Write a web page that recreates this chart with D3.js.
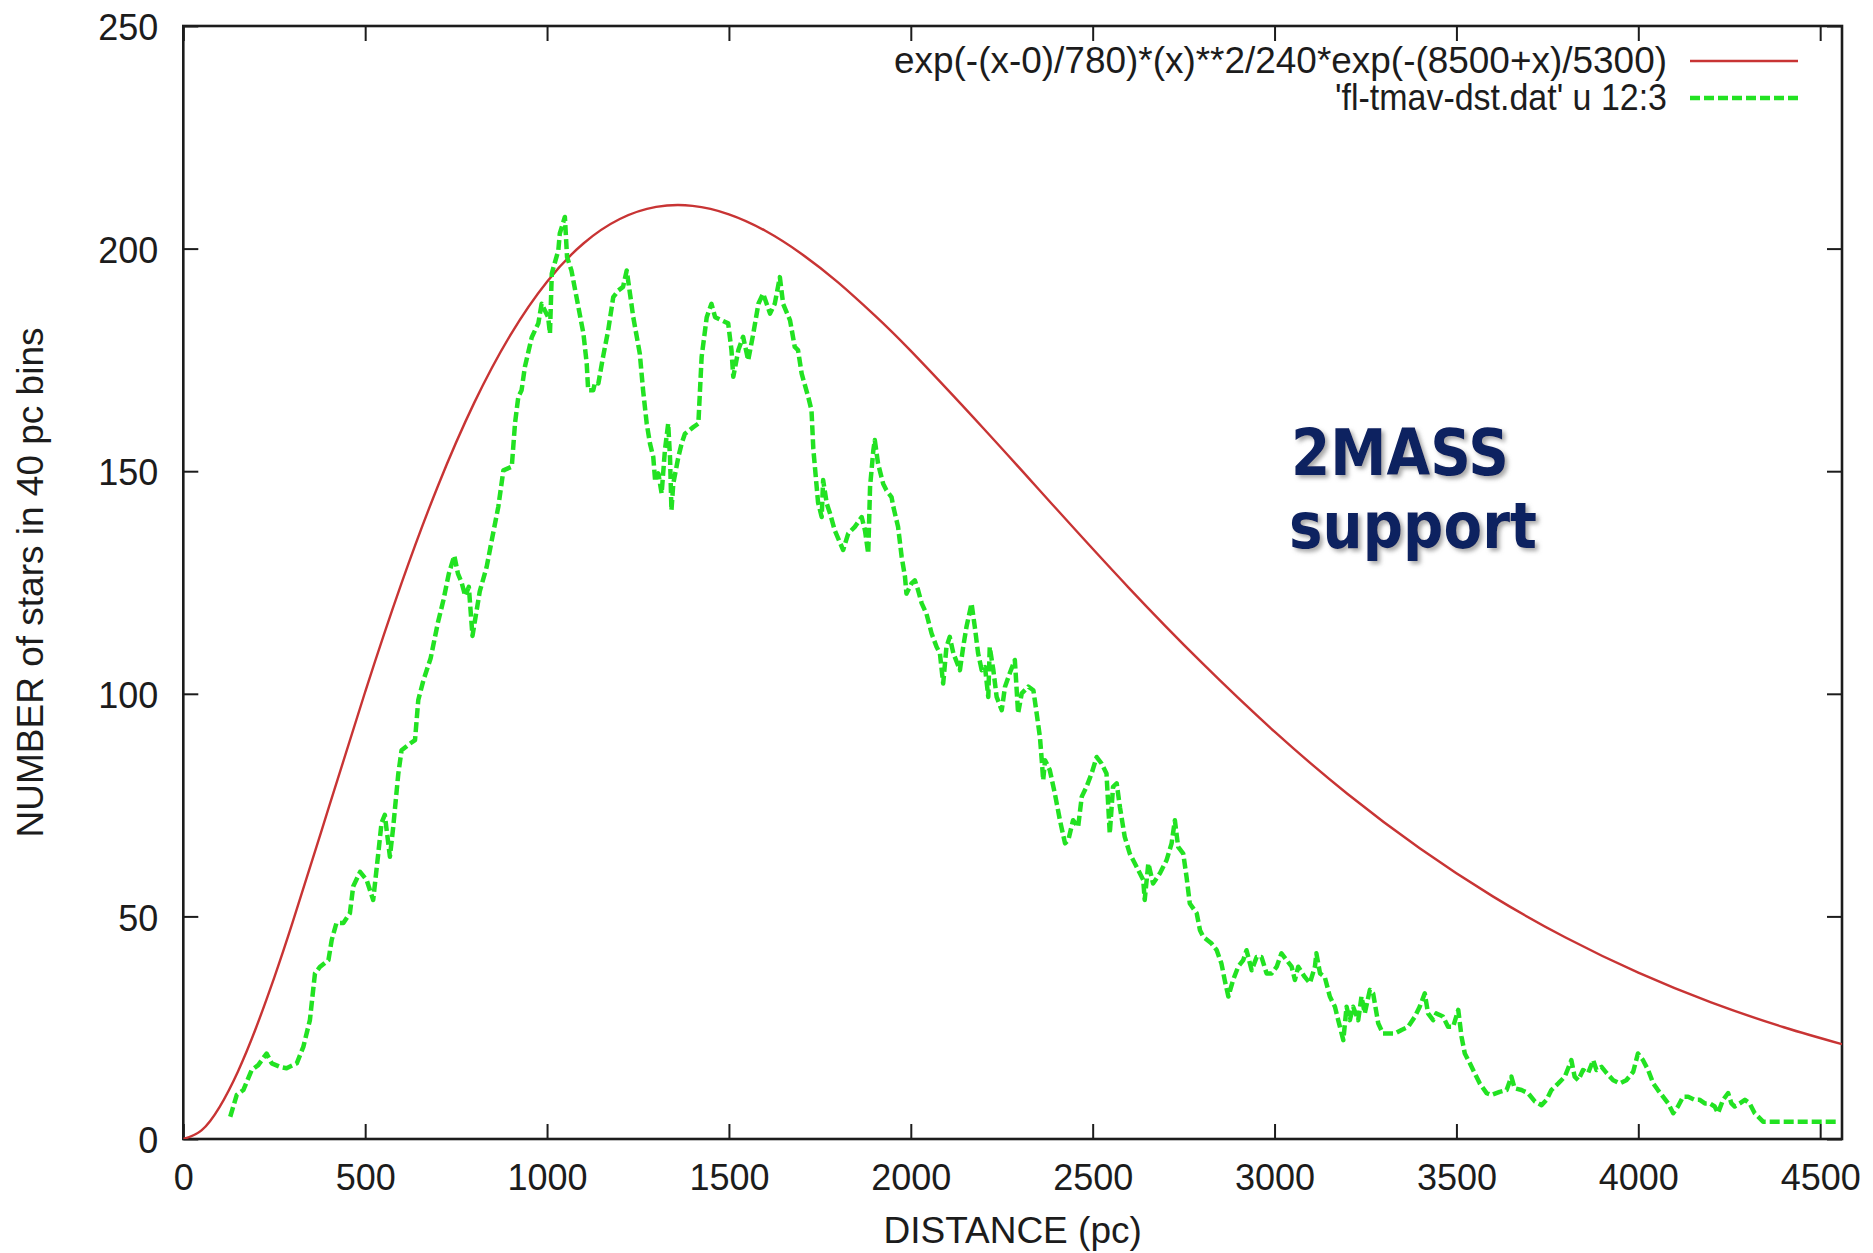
<!DOCTYPE html>
<html>
<head>
<meta charset="utf-8">
<script src="https://cdn.jsdelivr.net/npm/d3@7"></script>
<style>
  html, body { margin: 0; padding: 0; background: #ffffff; }
  svg { display: block; }
</style>
</head>
<body>
<svg id="chart" width="1873" height="1253"></svg>
<script>
// Star counts per 40 pc bin (running), against distance in pc
const distance = [
  129,147,165,188,206,229,243,266,284,312,330,348,362,376,399,408,421,440,458,467,
  486,504,522,532,545,554,568,577,591,600,623,637,646,660,680,700,715,730,745,755,
  765,775,785,795,805,815,834,848,866,880,903,912,921,930,939,958,976,985,1003,1008,
  1013,1031,1035,1049,1055,1067,1081,1100,1109,1113,1127,1132,1141,1154,1168,1182,1196,1209,1219,1228,
  1237,1255,1264,1274,1283,1292,1297,1306,1315,1324,1333,1338,1342,1347,1361,1370,1379,1402,1416,1425,
  1439,1452,1462,1480,1498,1507,1512,1526,1539,1553,1567,1581,1594,1613,1626,1640,1649,1668,1681,1690,
  1700,1718,1727,1732,1745,1755,1759,1769,1778,1791,1814,1828,1846,1865,1874,1883,1888,1897,1901,1910,
  1924,1933,1947,1952,1965,1975,1984,1988,2002,2011,2020,2030,2043,2057,2071,2080,2089,2098,2107,2117,
  2135,2144,2153,2167,2176,2185,2195,2204,2213,2217,2227,2236,2250,2259,2272,2286,2295,2305,2323,2337,
  2346,2355,2360,2364,2369,2382,2396,2410,2424,2433,2446,2460,2470,2483,2497,2511,2524,2538,2547,2556,
  2566,2575,2588,2602,2621,2639,2643,2653,2666,2685,2703,2717,2726,2735,2749,2758,2767,2786,2795,2804,
  2827,2841,2854,2863,2873,2886,2900,2914,2923,2937,2951,2964,2978,2992,3006,3019,3033,3047,3056,3065,
  3083,3097,3111,3115,3125,3138,3152,3166,3175,3189,3198,3207,3216,3230,3239,3248,3262,3271,3285,3298,
  3317,3331,3349,3367,3386,3399,3413,3422,3436,3445,3463,3477,3491,3505,3514,3523,3537,3550,3564,3583,
  3596,3619,3638,3651,3660,3679,3697,3716,3734,3748,3761,3780,3798,3816,3825,3835,3848,3862,3876,3885,
  3899,3913,3931,3949,3967,3986,3999,4013,4027,4041,4054,4068,4082,4096,4109,4123,4137,4155,4169,4183,
  4197,4210,4219,4233,4247,4256,4265,4279,4293,4306,4320,4343,4550
];
const starCount = [
  5.0,9.9,11.0,15.5,16.6,19.2,17.0,16.2,15.9,17.0,20.7,26.7,37.2,38.7,40.2,44.7,48.5,48.5,50.7,56.7,
  60.0,58.2,53.7,61.1,71.0,72.8,63.4,70.0,82.0,87.3,88.8,89.6,98.6,103,108,116,121,127,131,127,
  125,122,124,113,118,123,128.5,134.5,142,150.2,151,160.8,166.7,168.2,173.4,180.1,183.2,187.6,184.6,180.9,
  194.4,199.6,203.4,207.1,198.1,195.1,189.1,180.9,174.2,168.2,168.2,170,169.7,175.7,181.6,189.1,190.6,191.4,195.1,189.9,
  184.6,176.4,168.2,160.7,156.2,153.2,148,149.5,145,154.7,160.7,153.2,141.2,147.2,153.2,156.2,158.4,159.9,160.7,175.7,
  184.6,187.6,184.6,183.9,183.2,177.2,171.2,177.2,180.2,174.9,180.9,187.6,189.9,185.4,187.6,193.6,187.6,183.9,177.9,177.2,
  171.9,166.7,163.7,155,143,139.7,148,142.7,140.5,136.7,132.3,136,137.5,139.7,136.7,131.5,146.5,154.7,157,151.7,
  147.2,145.7,144.2,142,137.5,130.7,126.3,122.5,124.8,125.5,123.3,120.3,118,113.6,110.5,109.1,102.3,110.5,112.8,109.1,
  105.3,110.5,115,120.3,115,109.1,105.3,106,99.3,110.5,105.3,99.3,96.3,101.6,104.6,107.6,95.6,100.1,101.6,100.8,
  95.6,90.3,85.1,80.6,85.1,82.9,77.6,71.6,66.4,67.1,71.6,70.1,76.9,79.1,82.1,85.8,84.4,82.1,68.6,79.1,
  79.9,74.5,67.9,64.1,61.1,58.2,53.7,61.9,57.4,59.7,62.6,66.4,71.6,65.6,64.1,58.9,52.9,50.7,46.9,45.4,
  43.9,42.4,39.4,35.7,32.0,35.7,38.7,40.2,42.4,37.9,40.9,40.9,37.2,37.2,38.7,41.7,40.2,38.7,35.7,38.7,
  36.4,35.0,38.7,41.7,37.2,36.4,32.0,29.7,26.7,22.2,29.7,26.7,29.7,26.7,32.0,28.2,33.5,32.7,26.0,23.7,
  23.7,23.7,24.5,25.2,27.5,29.7,32.7,28.2,26.7,28.2,27.5,25.2,25.2,29.0,23.0,19.2,17.0,14.8,12.5,10.3,
  9.9,10.6,11.0,14.0,11.4,11.0,10.3,8.4,7.6,8.8,11.0,12.5,14.0,17.7,14.0,13.2,15.5,14.8,17.7,15.5,
  16.2,14.8,13.2,12.5,13.2,15.1,19.2,17.7,15.5,12.5,11.0,9.5,8.0,5.8,7.3,9.5,9.5,8.8,8.8,8.0,
  8.0,7.3,5.8,8.8,10.3,8.0,7.3,8.0,8.8,8.0,5.8,3.9,3.9
];

// Model curve values sampled along distance
const modelDistance = [0,50,100,150,200,250,300,400,500,600,700,800,900,1000,1100,1200,1300,1400,1500,1600,
  1700,1800,1900,2000,2200,2400,2600,2800,3000,3200,3400,3600,3800,4000,4200,4400,4560];
const modelCount = [0,1.95,7.24,15.13,24.98,36.27,48.52,74.47,100.44,124.85,146.69,165.40,180.70,192.58,201.15,206.64,209.36,209.60,207.71,204.01,
  198.81,192.40,185.06,177.02,159.59,141.55,123.75,106.98,91.50,77.56,65.25,54.50,45.25,37.36,30.69,25.10,21.31];

const xTicks = [0,500,1000,1500,2000,2500,3000,3500,4000,4500];
const yTicks = [0,50,100,150,200,250];
const legendLabels = [
  "exp(-(x-0)/780)*(x)**2/240*exp(-(8500+x)/5300)",
  "'fl-tmav-dst.dat' u 12:3"
];
const xTitle = "DISTANCE (pc)";
const yTitle = "NUMBER of stars in 40 pc bins";
const noteLines = ["2MASS", "support"];

const svg = d3.select("#chart");
const L = 183.3, R = 1842, T = 26, B = 1139;
const font = "'Liberation Sans', Arial, Helvetica, sans-serif";
const ink = "#1c1c1c";
const modelColor = "#c83434";
const dataColor = "#22e222";

const x = d3.scaleLinear().domain([0, 4560]).range([L, R]);
const y = d3.scaleLinear().domain([0, 250]).range([B, T]);

// shadow for the annotation text
const defs = svg.append("defs");
const f = defs.append("filter").attr("id", "shadow").attr("x", "-10%").attr("y", "-10%")
  .attr("width", "130%").attr("height", "140%");
f.append("feDropShadow").attr("dx", 3).attr("dy", 3).attr("stdDeviation", 2)
  .attr("flood-color", "#7a7a7a").attr("flood-opacity", 0.65);
defs.append("clipPath").attr("id", "plotclip").append("rect")
  .attr("x", L).attr("y", T).attr("width", R - L).attr("height", B - T);

// axes with inward ticks on all four sides
function styleAxis(g) {
  g.select(".domain").remove();
  g.selectAll(".tick line").attr("stroke", ink).attr("stroke-width", 2);
  g.selectAll(".tick text").attr("fill", ink).style("font-family", font).style("font-size", "36px");
}
svg.append("g").attr("transform", `translate(0,${B})`)
  .call(d3.axisBottom(x).tickValues(xTicks).tickSize(-15).tickFormat(d3.format("d")))
  .call(styleAxis)
  .call(g => g.selectAll(".tick text").attr("y", 51).attr("dy", 0));
svg.append("g").attr("transform", `translate(0,${T})`)
  .call(d3.axisTop(x).tickValues(xTicks).tickSize(-15).tickFormat(""))
  .call(styleAxis);
svg.append("g").attr("transform", `translate(${L},0)`)
  .call(d3.axisLeft(y).tickValues(yTicks).tickSize(-15).tickFormat(d3.format("d")))
  .call(styleAxis)
  .call(g => g.selectAll(".tick text").attr("x", -25).attr("dy", "0.38em"));
svg.append("g").attr("transform", `translate(${R},0)`)
  .call(d3.axisRight(y).tickValues(yTicks).tickSize(-15).tickFormat(""))
  .call(styleAxis);

// frame
svg.append("rect").attr("x", L).attr("y", T).attr("width", R - L).attr("height", B - T)
  .attr("fill", "none").attr("stroke", ink).attr("stroke-width", 2.6);

// axis titles
svg.append("text").attr("x", (L + R) / 2).attr("y", 1243).attr("text-anchor", "middle")
  .attr("fill", ink).style("font-family", font).style("font-size", "37px").text(xTitle);
svg.append("text").attr("transform", `translate(43,${(T + B) / 2}) rotate(-90)`)
  .attr("text-anchor", "middle").attr("fill", ink)
  .style("font-family", font).style("font-size", "37px").text(yTitle);

const plot = svg.append("g").attr("clip-path", "url(#plotclip)");

// model curve
const modelPts = modelDistance.map((d, i) => [d, modelCount[i]]);
plot.append("path").datum(modelPts)
  .attr("d", d3.line().x(d => x(d[0])).y(d => y(d[1])).curve(d3.curveNatural))
  .attr("fill", "none").attr("stroke", modelColor).attr("stroke-width", 2.4);

// observed counts
const dataPts = distance.map((d, i) => [d, starCount[i]]);
plot.append("path").datum(dataPts)
  .attr("d", d3.line().x(d => x(d[0])).y(d => y(d[1])))
  .attr("fill", "none").attr("stroke", dataColor).attr("stroke-width", 4.5)
  .attr("stroke-dasharray", "10,4").attr("stroke-linejoin", "round");

// legend
const legY = [61, 98];
const legWidths = [773, 332];
const legend = svg.append("g");
legendLabels.forEach((t, i) => {
  legend.append("text").attr("x", 1667).attr("y", legY[i] + 12).attr("text-anchor", "end")
    .attr("textLength", legWidths[i]).attr("lengthAdjust", "spacingAndGlyphs")
    .attr("fill", ink).style("font-family", font).style("font-size", "37px").text(t);
});
legend.append("line").attr("x1", 1690).attr("x2", 1798).attr("y1", legY[0]).attr("y2", legY[0])
  .attr("stroke", modelColor).attr("stroke-width", 2.4);
legend.append("line").attr("x1", 1690).attr("x2", 1798).attr("y1", legY[1]).attr("y2", legY[1])
  .attr("stroke", dataColor).attr("stroke-width", 4.5).attr("stroke-dasharray", "10,4");

// annotation
const note = svg.append("g").attr("filter", "url(#shadow)");
const noteWidths = [218, 248];
const noteX = [1291, 1289];
const noteY = [475, 548];
noteLines.forEach((t, i) => {
  note.append("text").attr("x", noteX[i]).attr("y", noteY[i])
    .attr("textLength", noteWidths[i]).attr("lengthAdjust", "spacingAndGlyphs")
    .attr("fill", "#0c2160")
    .style("font-family", "'DejaVu Sans', Verdana, sans-serif").style("font-weight", "bold")
    .style("font-size", "64px").text(t);
});
</script>
</body>
</html>
